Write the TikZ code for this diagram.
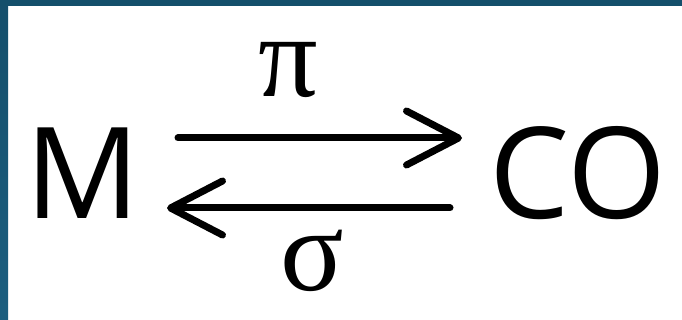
\documentclass[tikz,border=0pt]{standalone}
\usepackage{fontspec}
\setmainfont{Open Sans}
\newfontfamily\greekfont{Liberation Serif}
\usetikzlibrary{arrows.meta,calc}
\definecolor{FrameClr}{rgb}{0.08,0.31,0.42}
\definecolor{FrameClrB}{rgb}{0.11,0.37,0.50}

\begin{document}
\begin{tikzpicture}[x=1pt,y=-1pt,
  obj/.style={inner sep=0pt,font=\fontsize{127}{127}\selectfont},
  lbl/.style={inner sep=0pt,font=\fontsize{118}{118}\selectfont\greekfont},
  map/.style={line width=7pt,line cap=round,
    -{Straight Barb[length=52pt,width=54pt,round]}}]
\useasboundingbox (0,0) rectangle (682,320);
\fill[white] (0,0) rectangle (682,320);
\fill[top color=FrameClr,bottom color=FrameClrB] (0,0) rectangle (8,320);
\fill[FrameClr] (0,0) rectangle (682,6);

\node[obj,anchor=base] (M) at (83,219) {M};
\node[obj,anchor=base] (CO) at (578,219) {CO};

\coordinate (piA) at (178,138);
\coordinate (piB) at (462,138);
\coordinate (sigA) at (450,208);
\coordinate (sigB) at (167,208);

\draw[map] (piA) -- (piB);
\draw[map] (sigA) -- (sigB);

\node[lbl,anchor=base] (pi) at (288,97) {π};
\node[lbl,anchor=base] (sig) at (312,290) {σ};

\end{tikzpicture}
\end{document}
